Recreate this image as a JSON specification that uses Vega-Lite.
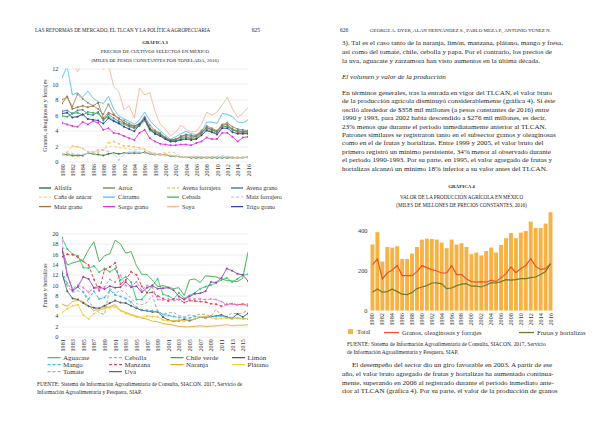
{
"$schema": "https://vega.github.io/schema/vega-lite/v6.json",
"background": "#ffffff",
"padding": {"left": 35, "top": 25.6, "right": 0, "bottom": 0},
"config": {
  "view": {"stroke": null},
  "font": "Liberation Serif",
  "text": {"font": "Liberation Serif", "color": "#1f1f1f"},
  "axis": {"labelFont": "Liberation Serif", "titleFont": "Liberation Serif", "labelFontSize": 6.3, "labelColor": "#333333", "titleColor": "#333333", "titleFontWeight": "normal", "titleFontSize": 6, "ticks": false, "domain": false, "gridColor": "#e3e3e3", "gridWidth": 0.6, "labelPadding": 3},
  "axisX": {"grid": false},
  "legend": {"labelFont": "Liberation Serif", "labelColor": "#333333"},
  "title": {"font": "Liberation Serif", "subtitleFont": "Liberation Serif", "color": "#222222", "subtitleColor": "#222222", "fontWeight": "normal"}
},
"datasets": {
  "headL": [
    {"line": 0, "col": 0, "text": "LAS REFORMAS DE MERCADO, EL TLCAN Y LA POLÍTICA AGROPECUARIA"},
    {"line": 0, "col": 1, "text": "625"}
  ],
  "srcL": [
    {"line": 0, "col": 0, "text": "FUENTE: Sistema de Información Agroalimentaria de Consulta, SIACON. 2017, Servicio de"},
    {"line": 1, "col": 0, "text": "Información Agroalimentaria y Pesquera, SIAP."}
  ],
  "textA": [
    {"line": 0, "col": 0, "style": "head", "text": "626"},
    {"line": 0, "col": 0, "style": "headr", "text": "GEORGE A. DYER, ALAN HERNÁNDEZ S., PABLO MEZA P., ANTONIO YÚNEZ N."},
    {"line": 1.55, "col": 0, "style": "p", "text": "3). Tal es el caso tanto de la naranja, limón, manzana, plátano, mango y fresa,"},
    {"line": 2.6, "col": 0, "style": "p", "text": "así como del tomate, chile, cebolla y papa. Por el contrario, los precios de"},
    {"line": 3.65, "col": 0, "style": "p", "text": "la uva, aguacate y zarzamora han visto aumentos en la última década."},
    {"line": 5.55, "col": 0, "style": "it", "text": "El volumen y valor de la producción"},
    {"line": 7.45, "col": 0, "style": "p", "text": "En términos generales, tras la entrada en vigor del TLCAN, el valor bruto"},
    {"line": 8.45, "col": 0, "style": "p", "text": "de la producción agrícola disminuyó considerablemente (gráfica 4). Si éste"},
    {"line": 9.45, "col": 0, "style": "p", "text": "osciló alrededor de $358 mil millones (a pesos constantes de 2016) entre"},
    {"line": 10.45, "col": 0, "style": "p", "text": "1990 y 1993, para 2002 había descendido a $276 mil millones, es decir,"},
    {"line": 11.45, "col": 0, "style": "p", "text": "23% menos que durante el periodo inmediatamente anterior al TLCAN."},
    {"line": 12.45, "col": 0, "style": "p", "text": "Patrones similares se registraron tanto en el subsector granos y oleaginosas"},
    {"line": 13.45, "col": 0, "style": "p", "text": "como en el de frutas y hortalizas. Entre 1999 y 2005, el valor bruto del"},
    {"line": 14.45, "col": 0, "style": "p", "text": "primero registró un mínimo persistente, 34% menor al observado durante"},
    {"line": 15.45, "col": 0, "style": "p", "text": "el periodo 1990-1993. Por su parte, en 1995, el valor agregado de frutas y"},
    {"line": 16.45, "col": 0, "style": "p", "text": "hortalizas alcanzó un mínimo 18% inferior a su valor antes del TLCAN."}
  ],
  "textC": [
    {"line": 0, "col": 0, "style": "src", "text": "FUENTE: Sistema de Información Agroalimentaria de Consulta, SIACON. 2017, Servicio"},
    {"line": 1, "col": 0, "style": "src", "text": "de Información Agroalimentaria y Pesquera, SIAP."},
    {"line": 2.55, "col": 0, "style": "ind", "text": "El desempeño del sector dio un giro favorable en 2003. A partir de ese"},
    {"line": 3.6, "col": 0, "style": "p", "text": "año, el valor bruto agregado de frutas y hortalizas ha aumentado continua-"},
    {"line": 4.6, "col": 0, "style": "p", "text": "mente, superando en 2006 al registrado durante el periodo inmediato ante-"},
    {"line": 5.6, "col": 0, "style": "p", "text": "rior al TLCAN (gráfica 4). Por su parte, el valor de la producción de granos"}
  ],
  "granos": [
{"cultivo":"Alfalfa","anio":1980,"v":0.9},{"cultivo":"Alfalfa","anio":1981,"v":0.9},{"cultivo":"Alfalfa","anio":1982,"v":0.8},{"cultivo":"Alfalfa","anio":1983,"v":0.8},{"cultivo":"Alfalfa","anio":1984,"v":0.8},{"cultivo":"Alfalfa","anio":1985,"v":1.1},{"cultivo":"Alfalfa","anio":1986,"v":1.0},{"cultivo":"Alfalfa","anio":1987,"v":0.9},{"cultivo":"Alfalfa","anio":1988,"v":0.8},{"cultivo":"Alfalfa","anio":1989,"v":1.0},{"cultivo":"Alfalfa","anio":1990,"v":1.1},{"cultivo":"Alfalfa","anio":1991,"v":1.0},{"cultivo":"Alfalfa","anio":1992,"v":1.1},{"cultivo":"Alfalfa","anio":1993,"v":1.1},{"cultivo":"Alfalfa","anio":1994,"v":1.1},{"cultivo":"Alfalfa","anio":1995,"v":1.1},{"cultivo":"Alfalfa","anio":1996,"v":1.2},{"cultivo":"Alfalfa","anio":1997,"v":1.0},{"cultivo":"Alfalfa","anio":1998,"v":0.9},{"cultivo":"Alfalfa","anio":1999,"v":0.9},{"cultivo":"Alfalfa","anio":2000,"v":0.9},{"cultivo":"Alfalfa","anio":2001,"v":0.7},{"cultivo":"Alfalfa","anio":2002,"v":0.7},{"cultivo":"Alfalfa","anio":2003,"v":0.6},{"cultivo":"Alfalfa","anio":2004,"v":0.6},{"cultivo":"Alfalfa","anio":2005,"v":0.5},{"cultivo":"Alfalfa","anio":2006,"v":0.5},{"cultivo":"Alfalfa","anio":2007,"v":0.5},{"cultivo":"Alfalfa","anio":2008,"v":0.5},{"cultivo":"Alfalfa","anio":2009,"v":0.5},{"cultivo":"Alfalfa","anio":2010,"v":0.5},{"cultivo":"Alfalfa","anio":2011,"v":0.5},{"cultivo":"Alfalfa","anio":2012,"v":0.5},{"cultivo":"Alfalfa","anio":2013,"v":0.5},{"cultivo":"Alfalfa","anio":2014,"v":0.5},{"cultivo":"Alfalfa","anio":2015,"v":0.5},{"cultivo":"Alfalfa","anio":2016,"v":0.6},
{"cultivo":"Arroz","anio":1980,"v":8.0},{"cultivo":"Arroz","anio":1981,"v":8.3},{"cultivo":"Arroz","anio":1982,"v":7.1},{"cultivo":"Arroz","anio":1983,"v":8.7},{"cultivo":"Arroz","anio":1984,"v":8.1},{"cultivo":"Arroz","anio":1985,"v":7.6},{"cultivo":"Arroz","anio":1986,"v":7.2},{"cultivo":"Arroz","anio":1987,"v":6.8},{"cultivo":"Arroz","anio":1988,"v":6.1},{"cultivo":"Arroz","anio":1989,"v":7.4},{"cultivo":"Arroz","anio":1990,"v":6.1},{"cultivo":"Arroz","anio":1991,"v":5.5},{"cultivo":"Arroz","anio":1992,"v":5.3},{"cultivo":"Arroz","anio":1993,"v":4.9},{"cultivo":"Arroz","anio":1994,"v":4.6},{"cultivo":"Arroz","anio":1995,"v":4.9},{"cultivo":"Arroz","anio":1996,"v":5.8},{"cultivo":"Arroz","anio":1997,"v":4.7},{"cultivo":"Arroz","anio":1998,"v":4.0},{"cultivo":"Arroz","anio":1999,"v":3.7},{"cultivo":"Arroz","anio":2000,"v":3.1},{"cultivo":"Arroz","anio":2001,"v":2.8},{"cultivo":"Arroz","anio":2002,"v":2.8},{"cultivo":"Arroz","anio":2003,"v":3.3},{"cultivo":"Arroz","anio":2004,"v":3.4},{"cultivo":"Arroz","anio":2005,"v":3.2},{"cultivo":"Arroz","anio":2006,"v":3.4},{"cultivo":"Arroz","anio":2007,"v":4.0},{"cultivo":"Arroz","anio":2008,"v":4.6},{"cultivo":"Arroz","anio":2009,"v":4.3},{"cultivo":"Arroz","anio":2010,"v":4.0},{"cultivo":"Arroz","anio":2011,"v":4.8},{"cultivo":"Arroz","anio":2012,"v":5.0},{"cultivo":"Arroz","anio":2013,"v":4.5},{"cultivo":"Arroz","anio":2014,"v":4.2},{"cultivo":"Arroz","anio":2015,"v":4.1},{"cultivo":"Arroz","anio":2016,"v":4.0},
{"cultivo":"Avena forrajera","anio":1980,"v":0.9},{"cultivo":"Avena forrajera","anio":1981,"v":1.2},{"cultivo":"Avena forrajera","anio":1982,"v":2.0},{"cultivo":"Avena forrajera","anio":1983,"v":1.9},{"cultivo":"Avena forrajera","anio":1984,"v":1.7},{"cultivo":"Avena forrajera","anio":1985,"v":1.3},{"cultivo":"Avena forrajera","anio":1986,"v":1.1},{"cultivo":"Avena forrajera","anio":1987,"v":1.2},{"cultivo":"Avena forrajera","anio":1988,"v":1.5},{"cultivo":"Avena forrajera","anio":1989,"v":2.4},{"cultivo":"Avena forrajera","anio":1990,"v":2.6},{"cultivo":"Avena forrajera","anio":1991,"v":2.3},{"cultivo":"Avena forrajera","anio":1992,"v":2.0},{"cultivo":"Avena forrajera","anio":1993,"v":2.0},{"cultivo":"Avena forrajera","anio":1994,"v":1.9},{"cultivo":"Avena forrajera","anio":1995,"v":1.8},{"cultivo":"Avena forrajera","anio":1996,"v":1.6},{"cultivo":"Avena forrajera","anio":1997,"v":1.2},{"cultivo":"Avena forrajera","anio":1998,"v":1.0},{"cultivo":"Avena forrajera","anio":1999,"v":0.9},{"cultivo":"Avena forrajera","anio":2000,"v":0.9},{"cultivo":"Avena forrajera","anio":2001,"v":0.8},{"cultivo":"Avena forrajera","anio":2002,"v":0.7},{"cultivo":"Avena forrajera","anio":2003,"v":0.6},{"cultivo":"Avena forrajera","anio":2004,"v":0.6},{"cultivo":"Avena forrajera","anio":2005,"v":0.6},{"cultivo":"Avena forrajera","anio":2006,"v":0.6},{"cultivo":"Avena forrajera","anio":2007,"v":0.6},{"cultivo":"Avena forrajera","anio":2008,"v":0.5},{"cultivo":"Avena forrajera","anio":2009,"v":0.6},{"cultivo":"Avena forrajera","anio":2010,"v":0.6},{"cultivo":"Avena forrajera","anio":2011,"v":0.6},{"cultivo":"Avena forrajera","anio":2012,"v":0.6},{"cultivo":"Avena forrajera","anio":2013,"v":0.5},{"cultivo":"Avena forrajera","anio":2014,"v":0.5},{"cultivo":"Avena forrajera","anio":2015,"v":0.5},{"cultivo":"Avena forrajera","anio":2016,"v":0.5},
{"cultivo":"Avena grano","anio":1980,"v":6.5},{"cultivo":"Avena grano","anio":1981,"v":6.6},{"cultivo":"Avena grano","anio":1982,"v":6.2},{"cultivo":"Avena grano","anio":1983,"v":6.6},{"cultivo":"Avena grano","anio":1984,"v":6.7},{"cultivo":"Avena grano","anio":1985,"v":6.1},{"cultivo":"Avena grano","anio":1986,"v":6.0},{"cultivo":"Avena grano","anio":1987,"v":6.4},{"cultivo":"Avena grano","anio":1988,"v":5.3},{"cultivo":"Avena grano","anio":1989,"v":6.1},{"cultivo":"Avena grano","anio":1990,"v":5.6},{"cultivo":"Avena grano","anio":1991,"v":5.2},{"cultivo":"Avena grano","anio":1992,"v":5.0},{"cultivo":"Avena grano","anio":1993,"v":4.7},{"cultivo":"Avena grano","anio":1994,"v":4.6},{"cultivo":"Avena grano","anio":1995,"v":4.8},{"cultivo":"Avena grano","anio":1996,"v":5.7},{"cultivo":"Avena grano","anio":1997,"v":4.3},{"cultivo":"Avena grano","anio":1998,"v":3.8},{"cultivo":"Avena grano","anio":1999,"v":3.5},{"cultivo":"Avena grano","anio":2000,"v":3.1},{"cultivo":"Avena grano","anio":2001,"v":2.7},{"cultivo":"Avena grano","anio":2002,"v":2.8},{"cultivo":"Avena grano","anio":2003,"v":3.2},{"cultivo":"Avena grano","anio":2004,"v":3.5},{"cultivo":"Avena grano","anio":2005,"v":3.4},{"cultivo":"Avena grano","anio":2006,"v":3.2},{"cultivo":"Avena grano","anio":2007,"v":3.7},{"cultivo":"Avena grano","anio":2008,"v":4.4},{"cultivo":"Avena grano","anio":2009,"v":4.1},{"cultivo":"Avena grano","anio":2010,"v":3.9},{"cultivo":"Avena grano","anio":2011,"v":4.6},{"cultivo":"Avena grano","anio":2012,"v":4.5},{"cultivo":"Avena grano","anio":2013,"v":4.1},{"cultivo":"Avena grano","anio":2014,"v":4.0},{"cultivo":"Avena grano","anio":2015,"v":3.9},{"cultivo":"Avena grano","anio":2016,"v":3.9},
{"cultivo":"Caña de azúcar","anio":1980,"v":0.9},{"cultivo":"Caña de azúcar","anio":1981,"v":0.8},{"cultivo":"Caña de azúcar","anio":1982,"v":0.7},{"cultivo":"Caña de azúcar","anio":1983,"v":0.7},{"cultivo":"Caña de azúcar","anio":1984,"v":0.6},{"cultivo":"Caña de azúcar","anio":1985,"v":1.2},{"cultivo":"Caña de azúcar","anio":1986,"v":1.3},{"cultivo":"Caña de azúcar","anio":1987,"v":1.4},{"cultivo":"Caña de azúcar","anio":1988,"v":1.6},{"cultivo":"Caña de azúcar","anio":1989,"v":1.9},{"cultivo":"Caña de azúcar","anio":1990,"v":2.0},{"cultivo":"Caña de azúcar","anio":1991,"v":1.8},{"cultivo":"Caña de azúcar","anio":1992,"v":1.7},{"cultivo":"Caña de azúcar","anio":1993,"v":1.6},{"cultivo":"Caña de azúcar","anio":1994,"v":1.5},{"cultivo":"Caña de azúcar","anio":1995,"v":1.6},{"cultivo":"Caña de azúcar","anio":1996,"v":1.5},{"cultivo":"Caña de azúcar","anio":1997,"v":1.2},{"cultivo":"Caña de azúcar","anio":1998,"v":1.1},{"cultivo":"Caña de azúcar","anio":1999,"v":1.0},{"cultivo":"Caña de azúcar","anio":2000,"v":1.2},{"cultivo":"Caña de azúcar","anio":2001,"v":1.2},{"cultivo":"Caña de azúcar","anio":2002,"v":1.1},{"cultivo":"Caña de azúcar","anio":2003,"v":0.7},{"cultivo":"Caña de azúcar","anio":2004,"v":0.6},{"cultivo":"Caña de azúcar","anio":2005,"v":0.7},{"cultivo":"Caña de azúcar","anio":2006,"v":0.7},{"cultivo":"Caña de azúcar","anio":2007,"v":0.6},{"cultivo":"Caña de azúcar","anio":2008,"v":0.6},{"cultivo":"Caña de azúcar","anio":2009,"v":0.7},{"cultivo":"Caña de azúcar","anio":2010,"v":0.7},{"cultivo":"Caña de azúcar","anio":2011,"v":0.8},{"cultivo":"Caña de azúcar","anio":2012,"v":0.7},{"cultivo":"Caña de azúcar","anio":2013,"v":0.6},{"cultivo":"Caña de azúcar","anio":2014,"v":0.6},{"cultivo":"Caña de azúcar","anio":2015,"v":0.6},{"cultivo":"Caña de azúcar","anio":2016,"v":0.6},
{"cultivo":"Cártamo","anio":1980,"v":10.8},{"cultivo":"Cártamo","anio":1981,"v":12.3},{"cultivo":"Cártamo","anio":1982,"v":8.6},{"cultivo":"Cártamo","anio":1983,"v":8.9},{"cultivo":"Cártamo","anio":1984,"v":8.3},{"cultivo":"Cártamo","anio":1985,"v":9.1},{"cultivo":"Cártamo","anio":1986,"v":8.2},{"cultivo":"Cártamo","anio":1987,"v":7.7},{"cultivo":"Cártamo","anio":1988,"v":7.5},{"cultivo":"Cártamo","anio":1989,"v":8.4},{"cultivo":"Cártamo","anio":1990,"v":6.8},{"cultivo":"Cártamo","anio":1991,"v":5.9},{"cultivo":"Cártamo","anio":1992,"v":5.5},{"cultivo":"Cártamo","anio":1993,"v":5.2},{"cultivo":"Cártamo","anio":1994,"v":4.8},{"cultivo":"Cártamo","anio":1995,"v":5.4},{"cultivo":"Cártamo","anio":1996,"v":6.4},{"cultivo":"Cártamo","anio":1997,"v":5.3},{"cultivo":"Cártamo","anio":1998,"v":4.6},{"cultivo":"Cártamo","anio":1999,"v":4.0},{"cultivo":"Cártamo","anio":2000,"v":3.4},{"cultivo":"Cártamo","anio":2001,"v":2.9},{"cultivo":"Cártamo","anio":2002,"v":3.2},{"cultivo":"Cártamo","anio":2003,"v":3.6},{"cultivo":"Cártamo","anio":2004,"v":3.9},{"cultivo":"Cártamo","anio":2005,"v":3.6},{"cultivo":"Cártamo","anio":2006,"v":3.5},{"cultivo":"Cártamo","anio":2007,"v":3.8},{"cultivo":"Cártamo","anio":2008,"v":5.1},{"cultivo":"Cártamo","anio":2009,"v":5.1},{"cultivo":"Cártamo","anio":2010,"v":4.9},{"cultivo":"Cártamo","anio":2011,"v":6.2},{"cultivo":"Cártamo","anio":2012,"v":6.1},{"cultivo":"Cártamo","anio":2013,"v":5.8},{"cultivo":"Cártamo","anio":2014,"v":5.1},{"cultivo":"Cártamo","anio":2015,"v":5.0},{"cultivo":"Cártamo","anio":2016,"v":5.4},
{"cultivo":"Cebada","anio":1980,"v":5.9},{"cultivo":"Cebada","anio":1981,"v":5.8},{"cultivo":"Cebada","anio":1982,"v":6.2},{"cultivo":"Cebada","anio":1983,"v":6.3},{"cultivo":"Cebada","anio":1984,"v":6.0},{"cultivo":"Cebada","anio":1985,"v":6.4},{"cultivo":"Cebada","anio":1986,"v":6.3},{"cultivo":"Cebada","anio":1987,"v":6.2},{"cultivo":"Cebada","anio":1988,"v":5.5},{"cultivo":"Cebada","anio":1989,"v":5.8},{"cultivo":"Cebada","anio":1990,"v":5.3},{"cultivo":"Cebada","anio":1991,"v":5.0},{"cultivo":"Cebada","anio":1992,"v":4.8},{"cultivo":"Cebada","anio":1993,"v":4.5},{"cultivo":"Cebada","anio":1994,"v":4.3},{"cultivo":"Cebada","anio":1995,"v":4.6},{"cultivo":"Cebada","anio":1996,"v":5.3},{"cultivo":"Cebada","anio":1997,"v":4.0},{"cultivo":"Cebada","anio":1998,"v":3.6},{"cultivo":"Cebada","anio":1999,"v":3.4},{"cultivo":"Cebada","anio":2000,"v":2.9},{"cultivo":"Cebada","anio":2001,"v":2.6},{"cultivo":"Cebada","anio":2002,"v":2.7},{"cultivo":"Cebada","anio":2003,"v":2.9},{"cultivo":"Cebada","anio":2004,"v":3.1},{"cultivo":"Cebada","anio":2005,"v":2.9},{"cultivo":"Cebada","anio":2006,"v":3.0},{"cultivo":"Cebada","anio":2007,"v":3.6},{"cultivo":"Cebada","anio":2008,"v":4.2},{"cultivo":"Cebada","anio":2009,"v":3.9},{"cultivo":"Cebada","anio":2010,"v":3.6},{"cultivo":"Cebada","anio":2011,"v":4.4},{"cultivo":"Cebada","anio":2012,"v":4.6},{"cultivo":"Cebada","anio":2013,"v":4.1},{"cultivo":"Cebada","anio":2014,"v":3.9},{"cultivo":"Cebada","anio":2015,"v":3.8},{"cultivo":"Cebada","anio":2016,"v":3.8},
{"cultivo":"Maíz forrajero","anio":1980,"v":1.0},{"cultivo":"Maíz forrajero","anio":1981,"v":1.0},{"cultivo":"Maíz forrajero","anio":1982,"v":1.0},{"cultivo":"Maíz forrajero","anio":1983,"v":0.9},{"cultivo":"Maíz forrajero","anio":1984,"v":0.9},{"cultivo":"Maíz forrajero","anio":1985,"v":1.1},{"cultivo":"Maíz forrajero","anio":1986,"v":1.2},{"cultivo":"Maíz forrajero","anio":1987,"v":1.5},{"cultivo":"Maíz forrajero","anio":1988,"v":1.5},{"cultivo":"Maíz forrajero","anio":1989,"v":1.3},{"cultivo":"Maíz forrajero","anio":1990,"v":1.0},{"cultivo":"Maíz forrajero","anio":1991,"v":0.2},{"cultivo":"Maíz forrajero","anio":1992,"v":1.0},{"cultivo":"Maíz forrajero","anio":1993,"v":1.2},{"cultivo":"Maíz forrajero","anio":1994,"v":1.3},{"cultivo":"Maíz forrajero","anio":1995,"v":1.2},{"cultivo":"Maíz forrajero","anio":1996,"v":1.1},{"cultivo":"Maíz forrajero","anio":1997,"v":1.0},{"cultivo":"Maíz forrajero","anio":1998,"v":0.9},{"cultivo":"Maíz forrajero","anio":1999,"v":0.9},{"cultivo":"Maíz forrajero","anio":2000,"v":0.8},{"cultivo":"Maíz forrajero","anio":2001,"v":0.8},{"cultivo":"Maíz forrajero","anio":2002,"v":0.7},{"cultivo":"Maíz forrajero","anio":2003,"v":0.6},{"cultivo":"Maíz forrajero","anio":2004,"v":0.6},{"cultivo":"Maíz forrajero","anio":2005,"v":0.6},{"cultivo":"Maíz forrajero","anio":2006,"v":0.6},{"cultivo":"Maíz forrajero","anio":2007,"v":0.6},{"cultivo":"Maíz forrajero","anio":2008,"v":0.6},{"cultivo":"Maíz forrajero","anio":2009,"v":0.6},{"cultivo":"Maíz forrajero","anio":2010,"v":0.6},{"cultivo":"Maíz forrajero","anio":2011,"v":0.6},{"cultivo":"Maíz forrajero","anio":2012,"v":0.6},{"cultivo":"Maíz forrajero","anio":2013,"v":0.6},{"cultivo":"Maíz forrajero","anio":2014,"v":0.5},{"cultivo":"Maíz forrajero","anio":2015,"v":0.5},{"cultivo":"Maíz forrajero","anio":2016,"v":0.6},
{"cultivo":"Maíz grano","anio":1980,"v":7.5},{"cultivo":"Maíz grano","anio":1981,"v":8.4},{"cultivo":"Maíz grano","anio":1982,"v":6.8},{"cultivo":"Maíz grano","anio":1983,"v":7.0},{"cultivo":"Maíz grano","anio":1984,"v":7.2},{"cultivo":"Maíz grano","anio":1985,"v":7.0},{"cultivo":"Maíz grano","anio":1986,"v":7.2},{"cultivo":"Maíz grano","anio":1987,"v":7.6},{"cultivo":"Maíz grano","anio":1988,"v":5.6},{"cultivo":"Maíz grano","anio":1989,"v":6.3},{"cultivo":"Maíz grano","anio":1990,"v":6.0},{"cultivo":"Maíz grano","anio":1991,"v":5.6},{"cultivo":"Maíz grano","anio":1992,"v":5.0},{"cultivo":"Maíz grano","anio":1993,"v":4.6},{"cultivo":"Maíz grano","anio":1994,"v":4.4},{"cultivo":"Maíz grano","anio":1995,"v":4.8},{"cultivo":"Maíz grano","anio":1996,"v":5.4},{"cultivo":"Maíz grano","anio":1997,"v":4.3},{"cultivo":"Maíz grano","anio":1998,"v":3.9},{"cultivo":"Maíz grano","anio":1999,"v":3.6},{"cultivo":"Maíz grano","anio":2000,"v":3.0},{"cultivo":"Maíz grano","anio":2001,"v":2.8},{"cultivo":"Maíz grano","anio":2002,"v":2.9},{"cultivo":"Maíz grano","anio":2003,"v":3.1},{"cultivo":"Maíz grano","anio":2004,"v":3.2},{"cultivo":"Maíz grano","anio":2005,"v":3.0},{"cultivo":"Maíz grano","anio":2006,"v":3.3},{"cultivo":"Maíz grano","anio":2007,"v":3.8},{"cultivo":"Maíz grano","anio":2008,"v":4.4},{"cultivo":"Maíz grano","anio":2009,"v":4.1},{"cultivo":"Maíz grano","anio":2010,"v":3.8},{"cultivo":"Maíz grano","anio":2011,"v":4.7},{"cultivo":"Maíz grano","anio":2012,"v":4.8},{"cultivo":"Maíz grano","anio":2013,"v":4.2},{"cultivo":"Maíz grano","anio":2014,"v":3.8},{"cultivo":"Maíz grano","anio":2015,"v":3.8},{"cultivo":"Maíz grano","anio":2016,"v":3.9},
{"cultivo":"Sorgo grano","anio":1980,"v":5.0},{"cultivo":"Sorgo grano","anio":1981,"v":4.8},{"cultivo":"Sorgo grano","anio":1982,"v":4.6},{"cultivo":"Sorgo grano","anio":1983,"v":4.5},{"cultivo":"Sorgo grano","anio":1984,"v":5.1},{"cultivo":"Sorgo grano","anio":1985,"v":4.8},{"cultivo":"Sorgo grano","anio":1986,"v":5.2},{"cultivo":"Sorgo grano","anio":1987,"v":5.0},{"cultivo":"Sorgo grano","anio":1988,"v":4.1},{"cultivo":"Sorgo grano","anio":1989,"v":4.3},{"cultivo":"Sorgo grano","anio":1990,"v":3.7},{"cultivo":"Sorgo grano","anio":1991,"v":3.6},{"cultivo":"Sorgo grano","anio":1992,"v":3.3},{"cultivo":"Sorgo grano","anio":1993,"v":3.0},{"cultivo":"Sorgo grano","anio":1994,"v":2.8},{"cultivo":"Sorgo grano","anio":1995,"v":3.7},{"cultivo":"Sorgo grano","anio":1996,"v":4.1},{"cultivo":"Sorgo grano","anio":1997,"v":3.0},{"cultivo":"Sorgo grano","anio":1998,"v":2.6},{"cultivo":"Sorgo grano","anio":1999,"v":2.3},{"cultivo":"Sorgo grano","anio":2000,"v":2.2},{"cultivo":"Sorgo grano","anio":2001,"v":2.1},{"cultivo":"Sorgo grano","anio":2002,"v":2.1},{"cultivo":"Sorgo grano","anio":2003,"v":2.2},{"cultivo":"Sorgo grano","anio":2004,"v":2.2},{"cultivo":"Sorgo grano","anio":2005,"v":2.1},{"cultivo":"Sorgo grano","anio":2006,"v":2.4},{"cultivo":"Sorgo grano","anio":2007,"v":2.6},{"cultivo":"Sorgo grano","anio":2008,"v":3.1},{"cultivo":"Sorgo grano","anio":2009,"v":2.9},{"cultivo":"Sorgo grano","anio":2010,"v":2.9},{"cultivo":"Sorgo grano","anio":2011,"v":3.7},{"cultivo":"Sorgo grano","anio":2012,"v":3.7},{"cultivo":"Sorgo grano","anio":2013,"v":3.2},{"cultivo":"Sorgo grano","anio":2014,"v":2.6},{"cultivo":"Sorgo grano","anio":2015,"v":3.1},{"cultivo":"Sorgo grano","anio":2016,"v":3.2},
{"cultivo":"Soya","anio":1980,"v":14.5},{"cultivo":"Soya","anio":1981,"v":13.5},{"cultivo":"Soya","anio":1982,"v":12.5},{"cultivo":"Soya","anio":1983,"v":11.6},{"cultivo":"Soya","anio":1984,"v":13.0},{"cultivo":"Soya","anio":1985,"v":13.5},{"cultivo":"Soya","anio":1986,"v":14.0},{"cultivo":"Soya","anio":1987,"v":13.0},{"cultivo":"Soya","anio":1988,"v":11.9},{"cultivo":"Soya","anio":1989,"v":12.5},{"cultivo":"Soya","anio":1990,"v":9.7},{"cultivo":"Soya","anio":1991,"v":9.0},{"cultivo":"Soya","anio":1992,"v":6.7},{"cultivo":"Soya","anio":1993,"v":7.2},{"cultivo":"Soya","anio":1994,"v":5.6},{"cultivo":"Soya","anio":1995,"v":9.5},{"cultivo":"Soya","anio":1996,"v":8.6},{"cultivo":"Soya","anio":1997,"v":8.9},{"cultivo":"Soya","anio":1998,"v":6.5},{"cultivo":"Soya","anio":1999,"v":4.8},{"cultivo":"Soya","anio":2000,"v":4.2},{"cultivo":"Soya","anio":2001,"v":3.3},{"cultivo":"Soya","anio":2002,"v":3.8},{"cultivo":"Soya","anio":2003,"v":4.7},{"cultivo":"Soya","anio":2004,"v":4.2},{"cultivo":"Soya","anio":2005,"v":3.8},{"cultivo":"Soya","anio":2006,"v":3.9},{"cultivo":"Soya","anio":2007,"v":4.8},{"cultivo":"Soya","anio":2008,"v":6.4},{"cultivo":"Soya","anio":2009,"v":6.0},{"cultivo":"Soya","anio":2010,"v":6.4},{"cultivo":"Soya","anio":2011,"v":7.3},{"cultivo":"Soya","anio":2012,"v":8.3},{"cultivo":"Soya","anio":2013,"v":6.8},{"cultivo":"Soya","anio":2014,"v":5.7},{"cultivo":"Soya","anio":2015,"v":6.2},{"cultivo":"Soya","anio":2016,"v":7.0},
{"cultivo":"Trigo grano","anio":1980,"v":6.2},{"cultivo":"Trigo grano","anio":1981,"v":6.3},{"cultivo":"Trigo grano","anio":1982,"v":5.7},{"cultivo":"Trigo grano","anio":1983,"v":5.8},{"cultivo":"Trigo grano","anio":1984,"v":6.1},{"cultivo":"Trigo grano","anio":1985,"v":5.5},{"cultivo":"Trigo grano","anio":1986,"v":5.4},{"cultivo":"Trigo grano","anio":1987,"v":5.3},{"cultivo":"Trigo grano","anio":1988,"v":4.9},{"cultivo":"Trigo grano","anio":1989,"v":5.6},{"cultivo":"Trigo grano","anio":1990,"v":5.2},{"cultivo":"Trigo grano","anio":1991,"v":4.9},{"cultivo":"Trigo grano","anio":1992,"v":4.5},{"cultivo":"Trigo grano","anio":1993,"v":4.2},{"cultivo":"Trigo grano","anio":1994,"v":3.9},{"cultivo":"Trigo grano","anio":1995,"v":4.8},{"cultivo":"Trigo grano","anio":1996,"v":5.5},{"cultivo":"Trigo grano","anio":1997,"v":4.2},{"cultivo":"Trigo grano","anio":1998,"v":3.6},{"cultivo":"Trigo grano","anio":1999,"v":3.3},{"cultivo":"Trigo grano","anio":2000,"v":2.9},{"cultivo":"Trigo grano","anio":2001,"v":2.6},{"cultivo":"Trigo grano","anio":2002,"v":2.6},{"cultivo":"Trigo grano","anio":2003,"v":2.8},{"cultivo":"Trigo grano","anio":2004,"v":2.9},{"cultivo":"Trigo grano","anio":2005,"v":2.8},{"cultivo":"Trigo grano","anio":2006,"v":2.9},{"cultivo":"Trigo grano","anio":2007,"v":3.4},{"cultivo":"Trigo grano","anio":2008,"v":4.0},{"cultivo":"Trigo grano","anio":2009,"v":3.8},{"cultivo":"Trigo grano","anio":2010,"v":3.5},{"cultivo":"Trigo grano","anio":2011,"v":4.3},{"cultivo":"Trigo grano","anio":2012,"v":4.3},{"cultivo":"Trigo grano","anio":2013,"v":3.8},{"cultivo":"Trigo grano","anio":2014,"v":3.6},{"cultivo":"Trigo grano","anio":2015,"v":3.6},{"cultivo":"Trigo grano","anio":2016,"v":3.6}
  ],
  "frutas": [
{"producto":"Aguacate","anio":1981,"v":19.2},{"producto":"Aguacate","anio":1982,"v":17.0},{"producto":"Aguacate","anio":1983,"v":16.0},{"producto":"Aguacate","anio":1984,"v":15.7},{"producto":"Aguacate","anio":1985,"v":13.4},{"producto":"Aguacate","anio":1986,"v":13.3},{"producto":"Aguacate","anio":1987,"v":13.7},{"producto":"Aguacate","anio":1988,"v":12.5},{"producto":"Aguacate","anio":1989,"v":13.2},{"producto":"Aguacate","anio":1990,"v":12.6},{"producto":"Aguacate","anio":1991,"v":13.2},{"producto":"Aguacate","anio":1992,"v":11.0},{"producto":"Aguacate","anio":1993,"v":11.6},{"producto":"Aguacate","anio":1994,"v":10.6},{"producto":"Aguacate","anio":1995,"v":7.2},{"producto":"Aguacate","anio":1996,"v":7.2},{"producto":"Aguacate","anio":1997,"v":8.5},{"producto":"Aguacate","anio":1998,"v":9.9},{"producto":"Aguacate","anio":1999,"v":11.2},{"producto":"Aguacate","anio":2000,"v":8.2},{"producto":"Aguacate","anio":2001,"v":7.9},{"producto":"Aguacate","anio":2002,"v":7.3},{"producto":"Aguacate","anio":2003,"v":8.5},{"producto":"Aguacate","anio":2004,"v":7.4},{"producto":"Aguacate","anio":2005,"v":8.0},{"producto":"Aguacate","anio":2006,"v":8.5},{"producto":"Aguacate","anio":2007,"v":9.3},{"producto":"Aguacate","anio":2008,"v":9.7},{"producto":"Aguacate","anio":2009,"v":10.0},{"producto":"Aguacate","anio":2010,"v":10.4},{"producto":"Aguacate","anio":2011,"v":11.0},{"producto":"Aguacate","anio":2012,"v":11.4},{"producto":"Aguacate","anio":2013,"v":10.6},{"producto":"Aguacate","anio":2014,"v":11.2},{"producto":"Aguacate","anio":2015,"v":11.9},{"producto":"Aguacate","anio":2016,"v":12.1},
{"producto":"Cebolla","anio":1981,"v":12.0},{"producto":"Cebolla","anio":1982,"v":9.8},{"producto":"Cebolla","anio":1983,"v":8.6},{"producto":"Cebolla","anio":1984,"v":8.9},{"producto":"Cebolla","anio":1985,"v":8.6},{"producto":"Cebolla","anio":1986,"v":6.6},{"producto":"Cebolla","anio":1987,"v":5.8},{"producto":"Cebolla","anio":1988,"v":4.6},{"producto":"Cebolla","anio":1989,"v":4.3},{"producto":"Cebolla","anio":1990,"v":9.4},{"producto":"Cebolla","anio":1991,"v":8.3},{"producto":"Cebolla","anio":1992,"v":9.0},{"producto":"Cebolla","anio":1993,"v":8.5},{"producto":"Cebolla","anio":1994,"v":7.4},{"producto":"Cebolla","anio":1995,"v":6.4},{"producto":"Cebolla","anio":1996,"v":6.2},{"producto":"Cebolla","anio":1997,"v":6.6},{"producto":"Cebolla","anio":1998,"v":8.0},{"producto":"Cebolla","anio":1999,"v":4.9},{"producto":"Cebolla","anio":2000,"v":4.3},{"producto":"Cebolla","anio":2001,"v":4.6},{"producto":"Cebolla","anio":2002,"v":4.7},{"producto":"Cebolla","anio":2003,"v":4.1},{"producto":"Cebolla","anio":2004,"v":3.8},{"producto":"Cebolla","anio":2005,"v":4.2},{"producto":"Cebolla","anio":2006,"v":4.0},{"producto":"Cebolla","anio":2007,"v":4.4},{"producto":"Cebolla","anio":2008,"v":4.3},{"producto":"Cebolla","anio":2009,"v":3.9},{"producto":"Cebolla","anio":2010,"v":5.3},{"producto":"Cebolla","anio":2011,"v":4.0},{"producto":"Cebolla","anio":2012,"v":3.9},{"producto":"Cebolla","anio":2013,"v":4.6},{"producto":"Cebolla","anio":2014,"v":4.4},{"producto":"Cebolla","anio":2015,"v":4.6},{"producto":"Cebolla","anio":2016,"v":5.1},
{"producto":"Chile verde","anio":1981,"v":16.8},{"producto":"Chile verde","anio":1982,"v":13.9},{"producto":"Chile verde","anio":1983,"v":14.3},{"producto":"Chile verde","anio":1984,"v":14.6},{"producto":"Chile verde","anio":1985,"v":14.9},{"producto":"Chile verde","anio":1986,"v":16.9},{"producto":"Chile verde","anio":1987,"v":18.4},{"producto":"Chile verde","anio":1988,"v":14.5},{"producto":"Chile verde","anio":1989,"v":15.7},{"producto":"Chile verde","anio":1990,"v":16.1},{"producto":"Chile verde","anio":1991,"v":18.7},{"producto":"Chile verde","anio":1992,"v":18.0},{"producto":"Chile verde","anio":1993,"v":16.2},{"producto":"Chile verde","anio":1994,"v":16.5},{"producto":"Chile verde","anio":1995,"v":13.8},{"producto":"Chile verde","anio":1996,"v":12.1},{"producto":"Chile verde","anio":1997,"v":12.0},{"producto":"Chile verde","anio":1998,"v":11.0},{"producto":"Chile verde","anio":1999,"v":9.7},{"producto":"Chile verde","anio":2000,"v":9.9},{"producto":"Chile verde","anio":2001,"v":9.6},{"producto":"Chile verde","anio":2002,"v":9.3},{"producto":"Chile verde","anio":2003,"v":9.5},{"producto":"Chile verde","anio":2004,"v":8.0},{"producto":"Chile verde","anio":2005,"v":11.0},{"producto":"Chile verde","anio":2006,"v":11.2},{"producto":"Chile verde","anio":2007,"v":10.5},{"producto":"Chile verde","anio":2008,"v":11.8},{"producto":"Chile verde","anio":2009,"v":11.7},{"producto":"Chile verde","anio":2010,"v":11.6},{"producto":"Chile verde","anio":2011,"v":11.2},{"producto":"Chile verde","anio":2012,"v":10.9},{"producto":"Chile verde","anio":2013,"v":10.8},{"producto":"Chile verde","anio":2014,"v":10.7},{"producto":"Chile verde","anio":2015,"v":11.3},{"producto":"Chile verde","anio":2016,"v":16.4},
{"producto":"Limón","anio":1981,"v":12.3},{"producto":"Limón","anio":1982,"v":8.8},{"producto":"Limón","anio":1983,"v":7.4},{"producto":"Limón","anio":1984,"v":7.2},{"producto":"Limón","anio":1985,"v":6.5},{"producto":"Limón","anio":1986,"v":5.9},{"producto":"Limón","anio":1987,"v":5.6},{"producto":"Limón","anio":1988,"v":5.5},{"producto":"Limón","anio":1989,"v":6.0},{"producto":"Limón","anio":1990,"v":6.5},{"producto":"Limón","anio":1991,"v":7.0},{"producto":"Limón","anio":1992,"v":6.6},{"producto":"Limón","anio":1993,"v":6.5},{"producto":"Limón","anio":1994,"v":6.0},{"producto":"Limón","anio":1995,"v":5.5},{"producto":"Limón","anio":1996,"v":5.1},{"producto":"Limón","anio":1997,"v":5.0},{"producto":"Limón","anio":1998,"v":4.8},{"producto":"Limón","anio":1999,"v":4.8},{"producto":"Limón","anio":2000,"v":3.8},{"producto":"Limón","anio":2001,"v":3.2},{"producto":"Limón","anio":2002,"v":3.0},{"producto":"Limón","anio":2003,"v":3.1},{"producto":"Limón","anio":2004,"v":3.3},{"producto":"Limón","anio":2005,"v":3.1},{"producto":"Limón","anio":2006,"v":3.4},{"producto":"Limón","anio":2007,"v":3.8},{"producto":"Limón","anio":2008,"v":3.7},{"producto":"Limón","anio":2009,"v":3.9},{"producto":"Limón","anio":2010,"v":4.0},{"producto":"Limón","anio":2011,"v":4.2},{"producto":"Limón","anio":2012,"v":3.8},{"producto":"Limón","anio":2013,"v":3.5},{"producto":"Limón","anio":2014,"v":4.4},{"producto":"Limón","anio":2015,"v":3.8},{"producto":"Limón","anio":2016,"v":4.5},
{"producto":"Mango","anio":1981,"v":12.7},{"producto":"Mango","anio":1982,"v":10.3},{"producto":"Mango","anio":1983,"v":8.8},{"producto":"Mango","anio":1984,"v":9.6},{"producto":"Mango","anio":1985,"v":8.7},{"producto":"Mango","anio":1986,"v":7.3},{"producto":"Mango","anio":1987,"v":8.8},{"producto":"Mango","anio":1988,"v":7.3},{"producto":"Mango","anio":1989,"v":7.6},{"producto":"Mango","anio":1990,"v":9.0},{"producto":"Mango","anio":1991,"v":8.1},{"producto":"Mango","anio":1992,"v":7.8},{"producto":"Mango","anio":1993,"v":7.4},{"producto":"Mango","anio":1994,"v":6.7},{"producto":"Mango","anio":1995,"v":5.7},{"producto":"Mango","anio":1996,"v":5.2},{"producto":"Mango","anio":1997,"v":5.1},{"producto":"Mango","anio":1998,"v":5.0},{"producto":"Mango","anio":1999,"v":4.9},{"producto":"Mango","anio":2000,"v":4.3},{"producto":"Mango","anio":2001,"v":4.1},{"producto":"Mango","anio":2002,"v":3.9},{"producto":"Mango","anio":2003,"v":3.7},{"producto":"Mango","anio":2004,"v":3.6},{"producto":"Mango","anio":2005,"v":3.6},{"producto":"Mango","anio":2006,"v":3.9},{"producto":"Mango","anio":2007,"v":3.8},{"producto":"Mango","anio":2008,"v":3.6},{"producto":"Mango","anio":2009,"v":3.8},{"producto":"Mango","anio":2010,"v":3.9},{"producto":"Mango","anio":2011,"v":4.0},{"producto":"Mango","anio":2012,"v":3.7},{"producto":"Mango","anio":2013,"v":3.6},{"producto":"Mango","anio":2014,"v":3.6},{"producto":"Mango","anio":2015,"v":3.5},{"producto":"Mango","anio":2016,"v":3.4},
{"producto":"Manzana","anio":1981,"v":15.5},{"producto":"Manzana","anio":1982,"v":16.0},{"producto":"Manzana","anio":1983,"v":15.9},{"producto":"Manzana","anio":1984,"v":15.4},{"producto":"Manzana","anio":1985,"v":14.6},{"producto":"Manzana","anio":1986,"v":13.9},{"producto":"Manzana","anio":1987,"v":11.1},{"producto":"Manzana","anio":1988,"v":8.9},{"producto":"Manzana","anio":1989,"v":13.0},{"producto":"Manzana","anio":1990,"v":13.5},{"producto":"Manzana","anio":1991,"v":14.3},{"producto":"Manzana","anio":1992,"v":10.2},{"producto":"Manzana","anio":1993,"v":11.0},{"producto":"Manzana","anio":1994,"v":12.6},{"producto":"Manzana","anio":1995,"v":12.0},{"producto":"Manzana","anio":1996,"v":9.8},{"producto":"Manzana","anio":1997,"v":8.5},{"producto":"Manzana","anio":1998,"v":8.6},{"producto":"Manzana","anio":1999,"v":7.9},{"producto":"Manzana","anio":2000,"v":7.4},{"producto":"Manzana","anio":2001,"v":6.9},{"producto":"Manzana","anio":2002,"v":7.3},{"producto":"Manzana","anio":2003,"v":7.2},{"producto":"Manzana","anio":2004,"v":6.6},{"producto":"Manzana","anio":2005,"v":7.0},{"producto":"Manzana","anio":2006,"v":6.9},{"producto":"Manzana","anio":2007,"v":6.8},{"producto":"Manzana","anio":2008,"v":6.7},{"producto":"Manzana","anio":2009,"v":6.4},{"producto":"Manzana","anio":2010,"v":6.3},{"producto":"Manzana","anio":2011,"v":5.9},{"producto":"Manzana","anio":2012,"v":6.3},{"producto":"Manzana","anio":2013,"v":6.4},{"producto":"Manzana","anio":2014,"v":6.2},{"producto":"Manzana","anio":2015,"v":6.3},{"producto":"Manzana","anio":2016,"v":6.0},
{"producto":"Naranja","anio":1981,"v":6.3},{"producto":"Naranja","anio":1982,"v":5.9},{"producto":"Naranja","anio":1983,"v":6.8},{"producto":"Naranja","anio":1984,"v":7.1},{"producto":"Naranja","anio":1985,"v":6.8},{"producto":"Naranja","anio":1986,"v":6.0},{"producto":"Naranja","anio":1987,"v":5.0},{"producto":"Naranja","anio":1988,"v":5.5},{"producto":"Naranja","anio":1989,"v":5.6},{"producto":"Naranja","anio":1990,"v":5.8},{"producto":"Naranja","anio":1991,"v":6.2},{"producto":"Naranja","anio":1992,"v":5.1},{"producto":"Naranja","anio":1993,"v":4.7},{"producto":"Naranja","anio":1994,"v":4.3},{"producto":"Naranja","anio":1995,"v":4.0},{"producto":"Naranja","anio":1996,"v":3.6},{"producto":"Naranja","anio":1997,"v":3.4},{"producto":"Naranja","anio":1998,"v":3.0},{"producto":"Naranja","anio":1999,"v":2.9},{"producto":"Naranja","anio":2000,"v":2.5},{"producto":"Naranja","anio":2001,"v":2.4},{"producto":"Naranja","anio":2002,"v":2.2},{"producto":"Naranja","anio":2003,"v":2.0},{"producto":"Naranja","anio":2004,"v":1.9},{"producto":"Naranja","anio":2005,"v":1.9},{"producto":"Naranja","anio":2006,"v":2.0},{"producto":"Naranja","anio":2007,"v":2.1},{"producto":"Naranja","anio":2008,"v":2.0},{"producto":"Naranja","anio":2009,"v":2.0},{"producto":"Naranja","anio":2010,"v":2.1},{"producto":"Naranja","anio":2011,"v":2.2},{"producto":"Naranja","anio":2012,"v":2.3},{"producto":"Naranja","anio":2013,"v":2.1},{"producto":"Naranja","anio":2014,"v":2.2},{"producto":"Naranja","anio":2015,"v":2.2},{"producto":"Naranja","anio":2016,"v":2.3},
{"producto":"Plátano","anio":1981,"v":4.7},{"producto":"Plátano","anio":1982,"v":5.4},{"producto":"Plátano","anio":1983,"v":6.0},{"producto":"Plátano","anio":1984,"v":6.2},{"producto":"Plátano","anio":1985,"v":4.2},{"producto":"Plátano","anio":1986,"v":3.4},{"producto":"Plátano","anio":1987,"v":4.4},{"producto":"Plátano","anio":1988,"v":5.2},{"producto":"Plátano","anio":1989,"v":5.4},{"producto":"Plátano","anio":1990,"v":5.6},{"producto":"Plátano","anio":1991,"v":5.8},{"producto":"Plátano","anio":1992,"v":5.0},{"producto":"Plátano","anio":1993,"v":4.5},{"producto":"Plátano","anio":1994,"v":4.2},{"producto":"Plátano","anio":1995,"v":3.8},{"producto":"Plátano","anio":1996,"v":3.7},{"producto":"Plátano","anio":1997,"v":4.0},{"producto":"Plátano","anio":1998,"v":3.9},{"producto":"Plátano","anio":1999,"v":3.8},{"producto":"Plátano","anio":2000,"v":3.2},{"producto":"Plátano","anio":2001,"v":3.1},{"producto":"Plátano","anio":2002,"v":3.1},{"producto":"Plátano","anio":2003,"v":3.2},{"producto":"Plátano","anio":2004,"v":3.0},{"producto":"Plátano","anio":2005,"v":3.3},{"producto":"Plátano","anio":2006,"v":3.4},{"producto":"Plátano","anio":2007,"v":3.8},{"producto":"Plátano","anio":2008,"v":3.9},{"producto":"Plátano","anio":2009,"v":3.7},{"producto":"Plátano","anio":2010,"v":3.4},{"producto":"Plátano","anio":2011,"v":3.5},{"producto":"Plátano","anio":2012,"v":3.6},{"producto":"Plátano","anio":2013,"v":3.4},{"producto":"Plátano","anio":2014,"v":3.5},{"producto":"Plátano","anio":2015,"v":3.4},{"producto":"Plátano","anio":2016,"v":3.5},
{"producto":"Tomate","anio":1981,"v":18.5},{"producto":"Tomate","anio":1982,"v":11.8},{"producto":"Tomate","anio":1983,"v":9.3},{"producto":"Tomate","anio":1984,"v":10.0},{"producto":"Tomate","anio":1985,"v":9.5},{"producto":"Tomate","anio":1986,"v":8.6},{"producto":"Tomate","anio":1987,"v":9.4},{"producto":"Tomate","anio":1988,"v":9.2},{"producto":"Tomate","anio":1989,"v":9.6},{"producto":"Tomate","anio":1990,"v":11.1},{"producto":"Tomate","anio":1991,"v":10.6},{"producto":"Tomate","anio":1992,"v":11.9},{"producto":"Tomate","anio":1993,"v":9.9},{"producto":"Tomate","anio":1994,"v":9.8},{"producto":"Tomate","anio":1995,"v":10.6},{"producto":"Tomate","anio":1996,"v":9.0},{"producto":"Tomate","anio":1997,"v":9.9},{"producto":"Tomate","anio":1998,"v":9.6},{"producto":"Tomate","anio":1999,"v":7.2},{"producto":"Tomate","anio":2000,"v":7.1},{"producto":"Tomate","anio":2001,"v":7.3},{"producto":"Tomate","anio":2002,"v":7.0},{"producto":"Tomate","anio":2003,"v":7.2},{"producto":"Tomate","anio":2004,"v":7.3},{"producto":"Tomate","anio":2005,"v":7.3},{"producto":"Tomate","anio":2006,"v":7.3},{"producto":"Tomate","anio":2007,"v":7.3},{"producto":"Tomate","anio":2008,"v":7.2},{"producto":"Tomate","anio":2009,"v":7.3},{"producto":"Tomate","anio":2010,"v":7.2},{"producto":"Tomate","anio":2011,"v":6.8},{"producto":"Tomate","anio":2012,"v":6.2},{"producto":"Tomate","anio":2013,"v":6.3},{"producto":"Tomate","anio":2014,"v":6.2},{"producto":"Tomate","anio":2015,"v":6.4},{"producto":"Tomate","anio":2016,"v":6.3},
{"producto":"Uva","anio":1981,"v":17.0},{"producto":"Uva","anio":1982,"v":12.0},{"producto":"Uva","anio":1983,"v":9.0},{"producto":"Uva","anio":1984,"v":9.7},{"producto":"Uva","anio":1985,"v":11.6},{"producto":"Uva","anio":1986,"v":11.2},{"producto":"Uva","anio":1987,"v":9.5},{"producto":"Uva","anio":1988,"v":9.7},{"producto":"Uva","anio":1989,"v":9.2},{"producto":"Uva","anio":1990,"v":9.8},{"producto":"Uva","anio":1991,"v":9.5},{"producto":"Uva","anio":1992,"v":9.6},{"producto":"Uva","anio":1993,"v":10.6},{"producto":"Uva","anio":1994,"v":9.6},{"producto":"Uva","anio":1995,"v":9.8},{"producto":"Uva","anio":1996,"v":8.6},{"producto":"Uva","anio":1997,"v":9.5},{"producto":"Uva","anio":1998,"v":9.9},{"producto":"Uva","anio":1999,"v":9.3},{"producto":"Uva","anio":2000,"v":9.4},{"producto":"Uva","anio":2001,"v":9.5},{"producto":"Uva","anio":2002,"v":9.0},{"producto":"Uva","anio":2003,"v":7.8},{"producto":"Uva","anio":2004,"v":7.2},{"producto":"Uva","anio":2005,"v":7.8},{"producto":"Uva","anio":2006,"v":8.3},{"producto":"Uva","anio":2007,"v":8.4},{"producto":"Uva","anio":2008,"v":8.8},{"producto":"Uva","anio":2009,"v":10.6},{"producto":"Uva","anio":2010,"v":10.5},{"producto":"Uva","anio":2011,"v":11.4},{"producto":"Uva","anio":2012,"v":13.2},{"producto":"Uva","anio":2013,"v":12.8},{"producto":"Uva","anio":2014,"v":12.2},{"producto":"Uva","anio":2015,"v":12.0},{"producto":"Uva","anio":2016,"v":10.8}
  ],
  "total": [
{"serie":"Total","anio":1980,"v":330},{"serie":"Total","anio":1981,"v":392},{"serie":"Total","anio":1982,"v":245},{"serie":"Total","anio":1983,"v":318},{"serie":"Total","anio":1984,"v":315},{"serie":"Total","anio":1985,"v":322},{"serie":"Total","anio":1986,"v":258},{"serie":"Total","anio":1987,"v":258},{"serie":"Total","anio":1988,"v":285},{"serie":"Total","anio":1989,"v":318},{"serie":"Total","anio":1990,"v":355},{"serie":"Total","anio":1991,"v":360},{"serie":"Total","anio":1992,"v":358},{"serie":"Total","anio":1993,"v":355},{"serie":"Total","anio":1994,"v":340},{"serie":"Total","anio":1995,"v":312},{"serie":"Total","anio":1996,"v":355},{"serie":"Total","anio":1997,"v":330},{"serie":"Total","anio":1998,"v":337},{"serie":"Total","anio":1999,"v":318},{"serie":"Total","anio":2000,"v":282},{"serie":"Total","anio":2001,"v":290},{"serie":"Total","anio":2002,"v":276},{"serie":"Total","anio":2003,"v":298},{"serie":"Total","anio":2004,"v":315},{"serie":"Total","anio":2005,"v":290},{"serie":"Total","anio":2006,"v":328},{"serie":"Total","anio":2007,"v":362},{"serie":"Total","anio":2008,"v":388},{"serie":"Total","anio":2009,"v":362},{"serie":"Total","anio":2010,"v":390},{"serie":"Total","anio":2011,"v":398},{"serie":"Total","anio":2012,"v":445},{"serie":"Total","anio":2013,"v":413},{"serie":"Total","anio":2014,"v":413},{"serie":"Total","anio":2015,"v":435},{"serie":"Total","anio":2016,"v":492}
  ],
  "lineas": [
{"serie":"Granos, oleaginosas y forrajes","anio":1980,"v":230},{"serie":"Granos, oleaginosas y forrajes","anio":1981,"v":258},{"serie":"Granos, oleaginosas y forrajes","anio":1982,"v":158},{"serie":"Granos, oleaginosas y forrajes","anio":1983,"v":188},{"serie":"Granos, oleaginosas y forrajes","anio":1984,"v":203},{"serie":"Granos, oleaginosas y forrajes","anio":1985,"v":225},{"serie":"Granos, oleaginosas y forrajes","anio":1986,"v":175},{"serie":"Granos, oleaginosas y forrajes","anio":1987,"v":175},{"serie":"Granos, oleaginosas y forrajes","anio":1988,"v":175},{"serie":"Granos, oleaginosas y forrajes","anio":1989,"v":195},{"serie":"Granos, oleaginosas y forrajes","anio":1990,"v":225},{"serie":"Granos, oleaginosas y forrajes","anio":1991,"v":215},{"serie":"Granos, oleaginosas y forrajes","anio":1992,"v":205},{"serie":"Granos, oleaginosas y forrajes","anio":1993,"v":198},{"serie":"Granos, oleaginosas y forrajes","anio":1994,"v":188},{"serie":"Granos, oleaginosas y forrajes","anio":1995,"v":188},{"serie":"Granos, oleaginosas y forrajes","anio":1996,"v":225},{"serie":"Granos, oleaginosas y forrajes","anio":1997,"v":180},{"serie":"Granos, oleaginosas y forrajes","anio":1998,"v":180},{"serie":"Granos, oleaginosas y forrajes","anio":1999,"v":158},{"serie":"Granos, oleaginosas y forrajes","anio":2000,"v":145},{"serie":"Granos, oleaginosas y forrajes","anio":2001,"v":142},{"serie":"Granos, oleaginosas y forrajes","anio":2002,"v":145},{"serie":"Granos, oleaginosas y forrajes","anio":2003,"v":142},{"serie":"Granos, oleaginosas y forrajes","anio":2004,"v":152},{"serie":"Granos, oleaginosas y forrajes","anio":2005,"v":145},{"serie":"Granos, oleaginosas y forrajes","anio":2006,"v":165},{"serie":"Granos, oleaginosas y forrajes","anio":2007,"v":185},{"serie":"Granos, oleaginosas y forrajes","anio":2008,"v":218},{"serie":"Granos, oleaginosas y forrajes","anio":2009,"v":190},{"serie":"Granos, oleaginosas y forrajes","anio":2010,"v":210},{"serie":"Granos, oleaginosas y forrajes","anio":2011,"v":225},{"serie":"Granos, oleaginosas y forrajes","anio":2012,"v":260},{"serie":"Granos, oleaginosas y forrajes","anio":2013,"v":221},{"serie":"Granos, oleaginosas y forrajes","anio":2014,"v":206},{"serie":"Granos, oleaginosas y forrajes","anio":2015,"v":210},{"serie":"Granos, oleaginosas y forrajes","anio":2016,"v":235},
{"serie":"Frutas y hortalizas","anio":1980,"v":92},{"serie":"Frutas y hortalizas","anio":1981,"v":108},{"serie":"Frutas y hortalizas","anio":1982,"v":92},{"serie":"Frutas y hortalizas","anio":1983,"v":95},{"serie":"Frutas y hortalizas","anio":1984,"v":108},{"serie":"Frutas y hortalizas","anio":1985,"v":95},{"serie":"Frutas y hortalizas","anio":1986,"v":82},{"serie":"Frutas y hortalizas","anio":1987,"v":80},{"serie":"Frutas y hortalizas","anio":1988,"v":90},{"serie":"Frutas y hortalizas","anio":1989,"v":110},{"serie":"Frutas y hortalizas","anio":1990,"v":118},{"serie":"Frutas y hortalizas","anio":1991,"v":125},{"serie":"Frutas y hortalizas","anio":1992,"v":138},{"serie":"Frutas y hortalizas","anio":1993,"v":139},{"serie":"Frutas y hortalizas","anio":1994,"v":134},{"serie":"Frutas y hortalizas","anio":1995,"v":110},{"serie":"Frutas y hortalizas","anio":1996,"v":113},{"serie":"Frutas y hortalizas","anio":1997,"v":125},{"serie":"Frutas y hortalizas","anio":1998,"v":132},{"serie":"Frutas y hortalizas","anio":1999,"v":135},{"serie":"Frutas y hortalizas","anio":2000,"v":122},{"serie":"Frutas y hortalizas","anio":2001,"v":122},{"serie":"Frutas y hortalizas","anio":2002,"v":118},{"serie":"Frutas y hortalizas","anio":2003,"v":128},{"serie":"Frutas y hortalizas","anio":2004,"v":140},{"serie":"Frutas y hortalizas","anio":2005,"v":138},{"serie":"Frutas y hortalizas","anio":2006,"v":145},{"serie":"Frutas y hortalizas","anio":2007,"v":155},{"serie":"Frutas y hortalizas","anio":2008,"v":152},{"serie":"Frutas y hortalizas","anio":2009,"v":155},{"serie":"Frutas y hortalizas","anio":2010,"v":160},{"serie":"Frutas y hortalizas","anio":2011,"v":160},{"serie":"Frutas y hortalizas","anio":2012,"v":165},{"serie":"Frutas y hortalizas","anio":2013,"v":168},{"serie":"Frutas y hortalizas","anio":2014,"v":180},{"serie":"Frutas y hortalizas","anio":2015,"v":195},{"serie":"Frutas y hortalizas","anio":2016,"v":235}
  ]
},
"spacing": 58,
"resolve": {"scale": {"color": "independent", "strokeDash": "independent", "fill": "independent", "stroke": "independent"}, "legend": {"color": "independent", "strokeDash": "independent", "fill": "independent", "stroke": "independent"}},
"hconcat": [
  {
    "spacing": 5,
    "resolve": {"scale": {"color": "independent", "strokeDash": "independent", "fill": "independent", "stroke": "independent"}, "legend": {"color": "independent", "strokeDash": "independent", "fill": "independent", "stroke": "independent"}},
    "vconcat": [
      {
        "width": 186, "height": 9,
        "data": {"name": "headL"},
        "encoding": {
          "x": {"field": "col", "type": "quantitative", "scale": {"domain": [0, 1], "nice": false, "zero": false}, "axis": null},
          "y": {"field": "line", "type": "quantitative", "scale": {"domain": [-0.5, 0.5], "nice": false, "zero": false, "reverse": true}, "axis": null},
          "text": {"field": "text"}
        },
        "layer": [
          {"transform": [{"filter": "datum.col == 0"}], "mark": {"type": "text", "align": "left", "baseline": "middle", "dx": -27, "fontSize": 5.05}},
          {"transform": [{"filter": "datum.col == 1"}], "mark": {"type": "text", "align": "right", "baseline": "middle", "dx": 12, "fontSize": 5.6}}
        ]
      },
      {
        "width": 186, "height": 93,
        "title": {"text": "GRÁFICA 3", "subtitle": ["PRECIOS DE CULTIVOS SELECTOS EN MÉXICO", "(MILES DE PESOS CONSTANTES POR TONELADA, 2016)"], "fontSize": 4.8, "fontWeight": "bold", "subtitleFontSize": 5.0, "subtitleLineHeight": 9, "subtitlePadding": 4, "offset": 3, "anchor": "middle"},
        "data": {"name": "granos"},
        "encoding": {
          "x": {"field": "anio", "type": "quantitative", "scale": {"domain": [1980, 2016], "nice": false, "zero": false}, "axis": {"values": [1980,1982,1984,1986,1988,1990,1992,1994,1996,1998,2000,2002,2004,2006,2008,2010,2012,2014,2016], "format": "d", "labelAngle": -90, "title": null, "labelPadding": 2, "labelFontSize": 6.2}},
          "y": {"field": "v", "type": "quantitative", "scale": {"domain": [0, 12], "nice": false}, "axis": {"values": [0,2,4,6,8,10,12], "title": "Granos, oleaginosas y forrajes", "titlePadding": 4, "labelPadding": 4}},
          "color": {"field": "cultivo", "type": "nominal",
            "scale": {"domain": ["Alfalfa","Arroz","Avena forrajera","Avena grano","Caña de azúcar","Cártamo","Cebada","Maíz forrajero","Maíz grano","Sorgo grano","Soya","Trigo grano"], "range": ["#2e8540","#8f8f70","#f7c46c","#4f7fb8","#f2d57a","#4fc1ea","#3cb44b","#c4c4ee","#a5713a","#df2fdf","#f6b39a","#2f3f9e"]},
            "legend": {"title": null, "orient": "none", "legendX": -21, "legendY": 115, "direction": "horizontal", "columns": 4, "symbolType": "M-2,0H2", "symbolSize": 36, "symbolStrokeWidth": 1.3, "labelFontSize": 6.2, "labelOffset": 5, "rowPadding": 1.5, "columnPadding": 7, "gridAlign": "all", "padding": 0}}
        },
        "layer": [
          {"mark": {"type": "line", "strokeWidth": 1, "clip": true},
           "encoding": {"strokeDash": {"field": "cultivo", "type": "nominal",
             "scale": {"domain": ["Alfalfa","Arroz","Avena forrajera","Avena grano","Caña de azúcar","Cártamo","Cebada","Maíz forrajero","Maíz grano","Sorgo grano","Soya","Trigo grano"], "range": [[1,0],[1,0],[3,2],[1,0],[3,2],[1,0],[1,0],[3,2],[1,0],[1,0],[1,0],[1,0]]},
             "legend": {"title": null, "orient": "none", "legendX": -21, "legendY": 115, "direction": "horizontal", "columns": 4, "symbolType": "M-2,0H2", "symbolSize": 36, "symbolStrokeWidth": 1.3, "labelFontSize": 6.2, "labelOffset": 5, "rowPadding": 1.5, "columnPadding": 7, "gridAlign": "all", "padding": 0}}}},
          {"transform": [{"filter": {"field": "cultivo", "oneOf": ["Alfalfa","Arroz","Avena forrajera","Avena grano","Cebada","Maíz forrajero","Maíz grano","Sorgo grano","Trigo grano"]}}],
           "mark": {"type": "point", "filled": true, "size": 4, "opacity": 1, "clip": true}}
        ]
      },
      {
        "width": 186, "height": 103,
        "title": {"text": " ", "fontSize": 2, "offset": 13},
        "data": {"name": "frutas"},
        "encoding": {
          "x": {"field": "anio", "type": "quantitative", "scale": {"domain": [1981, 2016], "nice": false, "zero": false}, "axis": {"values": [1981,1983,1985,1987,1989,1991,1993,1995,1997,1999,2001,2003,2005,2007,2009,2011,2013,2015], "format": "d", "labelAngle": -90, "title": null, "labelPadding": 2, "labelFontSize": 6.2}},
          "y": {"field": "v", "type": "quantitative", "scale": {"domain": [0, 20], "nice": false}, "axis": {"values": [0,2,4,6,8,10,12,14,16,18,20], "title": "Frutas y hortalizas", "titlePadding": 4, "labelPadding": 4}},
          "color": {"field": "producto", "type": "nominal",
            "scale": {"domain": ["Aguacate","Cebolla","Chile verde","Limón","Mango","Manzana","Naranja","Plátano","Tomate","Uva"], "range": ["#2ecc71","#a8a8a8","#3aa843","#4d5866","#3bbfe0","#e8464b","#e9a727","#f3cf3a","#e57ce5","#8e44ad"]},
            "legend": {"title": null, "orient": "none", "legendX": -12, "legendY": 120, "direction": "horizontal", "columns": 4, "symbolType": "M-2,0H2", "symbolSize": 42, "symbolStrokeWidth": 1.3, "labelFontSize": 7, "labelOffset": 5, "rowPadding": 0, "columnPadding": 9.5, "gridAlign": "all", "padding": 0}}
        },
        "layer": [
          {"mark": {"type": "line", "strokeWidth": 1, "clip": true},
           "encoding": {"strokeDash": {"field": "producto", "type": "nominal",
             "scale": {"domain": ["Aguacate","Cebolla","Chile verde","Limón","Mango","Manzana","Naranja","Plátano","Tomate","Uva"], "range": [[1,0],[3,2],[1,0],[1,0],[3,2],[3,2],[1,0],[1,0],[3,2],[1,0]]},
             "legend": {"title": null, "orient": "none", "legendX": -12, "legendY": 120, "direction": "horizontal", "columns": 4, "symbolType": "M-2,0H2", "symbolSize": 42, "symbolStrokeWidth": 1.3, "labelFontSize": 7, "labelOffset": 5, "rowPadding": 0, "columnPadding": 9.5, "gridAlign": "all", "padding": 0}}}},
          {"transform": [{"filter": {"field": "producto", "oneOf": ["Aguacate","Limón","Mango","Manzana","Plátano","Tomate","Uva"]}}],
           "mark": {"type": "point", "filled": true, "size": 4, "opacity": 1, "clip": true}}
        ]
      },
      {
        "width": 186, "height": 16,
        "data": {"name": "srcL"},
        "encoding": {
          "x": {"field": "col", "type": "quantitative", "scale": {"domain": [0, 1], "nice": false, "zero": false}, "axis": null},
          "y": {"field": "line", "type": "quantitative", "scale": {"domain": [-0.5, 1.5], "nice": false, "zero": false, "reverse": true}, "axis": null},
          "text": {"field": "text"}
        },
        "mark": {"type": "text", "align": "left", "baseline": "middle", "dx": -25, "fontSize": 5.5}
      }
    ]
  },
  {
    "spacing": 3,
    "resolve": {"scale": {"color": "independent", "strokeDash": "independent", "fill": "independent", "stroke": "independent"}, "legend": {"color": "independent", "strokeDash": "independent", "fill": "independent", "stroke": "independent"}},
    "vconcat": [
      {
        "width": 183, "height": 154.4,
        "data": {"name": "textA"},
        "encoding": {
          "x": {"field": "col", "type": "quantitative", "scale": {"domain": [0, 1], "nice": false, "zero": false}, "axis": null},
          "y": {"field": "line", "type": "quantitative", "scale": {"domain": [-0.5, 17.77], "nice": false, "zero": false, "reverse": true}, "axis": null},
          "text": {"field": "text"}
        },
        "layer": [
          {"transform": [{"filter": "datum.style == 'head'"}], "mark": {"type": "text", "align": "left", "baseline": "middle", "dx": -30, "fontSize": 5.6}},
          {"transform": [{"filter": "datum.style == 'headr'"}], "mark": {"type": "text", "align": "left", "baseline": "middle", "dx": 0, "fontSize": 5.0}},
          {"transform": [{"filter": "datum.style == 'p'"}], "mark": {"type": "text", "align": "left", "baseline": "middle", "dx": -28, "fontSize": 7.15}},
          {"transform": [{"filter": "datum.style == 'it'"}], "mark": {"type": "text", "align": "left", "baseline": "middle", "dx": -28, "fontSize": 7.15, "fontStyle": "italic"}}
        ]
      },
      {
        "width": 183, "height": 100,
        "title": {"text": "GRÁFICA 4", "subtitle": ["VALOR DE LA PRODUCCIÓN AGRÍCOLA EN MÉXICO", "(MILES DE MILLONES DE PRECIOS CONSTANTES, 2016)"], "fontSize": 5, "fontWeight": "bold", "subtitleFontSize": 5.1, "subtitleLineHeight": 8, "subtitlePadding": 6, "offset": 2, "anchor": "middle"},
        "encoding": {
          "x": {"field": "anio", "type": "ordinal", "scale": {"paddingInner": 0.2, "paddingOuter": 0.1}, "axis": {"values": [1980,1982,1984,1986,1988,1990,1992,1994,1996,1998,2000,2002,2004,2006,2008,2010,2012,2014,2016], "labelAngle": -90, "title": null, "labelPadding": 2, "labelFontSize": 6.2}}
        },
        "layer": [
          {"data": {"name": "total"}, "mark": {"type": "bar"},
           "encoding": {
             "y": {"field": "v", "type": "quantitative", "scale": {"domain": [0, 500], "nice": false}, "axis": {"values": [0,100,200,300,400,500], "title": null, "grid": false, "labelPadding": 3}},
             "fill": {"field": "serie", "type": "nominal", "scale": {"domain": ["Total"], "range": ["#f6b345"]},
               "legend": {"title": null, "orient": "none", "legendX": -23, "legendY": 117.5, "symbolType": "square", "symbolSize": 25, "labelFontSize": 6.6, "labelOffset": 3, "padding": 0}}
           }},
          {"data": {"name": "lineas"}, "mark": {"type": "line", "strokeWidth": 1.2},
           "encoding": {
             "y": {"field": "v", "type": "quantitative"},
             "stroke": {"field": "serie", "type": "nominal", "scale": {"domain": ["Granos, oleaginosas y forrajes", "Frutas y hortalizas"], "range": ["#e8532b", "#6f7a2d"]},
               "legend": {"title": null, "orient": "none", "legendX": 17, "legendY": 117, "direction": "horizontal", "symbolType": "M-2,0H2", "symbolSize": 56, "symbolStrokeWidth": 1.3, "labelFontSize": 6.6, "labelOffset": 6, "columnPadding": 34, "padding": 0}}
           }}
        ]
      },
      {
        "width": 183, "height": 55.8,
        "data": {"name": "textC"},
        "encoding": {
          "x": {"field": "col", "type": "quantitative", "scale": {"domain": [0, 1], "nice": false, "zero": false}, "axis": null},
          "y": {"field": "line", "type": "quantitative", "scale": {"domain": [-0.5, 6.1], "nice": false, "zero": false, "reverse": true}, "axis": null},
          "text": {"field": "text"}
        },
        "layer": [
          {"transform": [{"filter": "datum.style == 'src'"}], "mark": {"type": "text", "align": "left", "baseline": "middle", "dx": -23, "fontSize": 5.5}},
          {"transform": [{"filter": "datum.style == 'ind'"}], "mark": {"type": "text", "align": "left", "baseline": "middle", "dx": -18, "fontSize": 7.15}},
          {"transform": [{"filter": "datum.style == 'p'"}], "mark": {"type": "text", "align": "left", "baseline": "middle", "dx": -28, "fontSize": 7.15}}
        ]
      }
    ]
  }
]
}
